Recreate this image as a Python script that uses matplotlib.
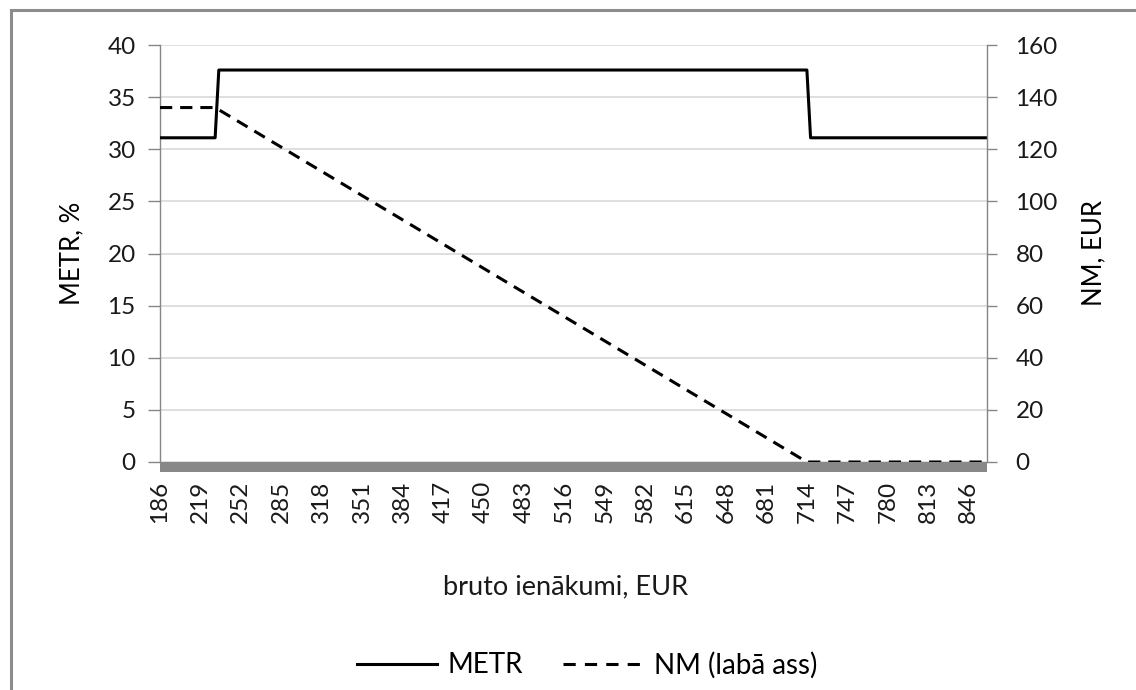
import numpy as np
import matplotlib
matplotlib.use("Agg")
import matplotlib.pyplot as plt
from matplotlib.lines import Line2D
from matplotlib.patches import Rectangle

# data (EUR gross income, step 3 on a category axis)
income_metr = [186, 231, 234, 714, 717, 861]
metr = [31.1, 31.1, 37.6, 37.6, 31.1, 31.1]

income_nm = [186, 231, 714, 861]
nm = [136, 136, 0, 0]

tick_labels = list(range(186, 847, 33))

plt.rcParams["font.family"] = ["Lato", "DejaVu Sans"]
plt.rcParams["font.size"] = 17.5

fig = plt.figure(figsize=(11.36, 6.9), dpi=100)
ax = fig.add_axes([160/1136, 1-462/690, 827/1136, 417/690])
ax2 = ax.twinx()

grid_col = "#d9d9d9"
axis_col = "#868686"
txt_col = "#1a1a1a"

ax.plot(income_metr, metr, color="black", lw=2.2, zorder=3)
ax2.plot(income_nm, nm, color="black", lw=2.2, ls=(0, (4, 2.6)), zorder=3)

ax.set_xlim(186, 861)
ax.set_ylim(0, 40)
ax2.set_ylim(0, 160)
ax.set_yticks(np.arange(0, 41, 5))
ax2.set_yticks(np.arange(0, 161, 20))
ax.set_xticks(tick_labels)
ax.set_xticklabels([str(t) for t in tick_labels])

ax.grid(axis="y", color=grid_col, lw=1.2)
ax.set_axisbelow(True)

for a in (ax, ax2):
    a.spines["top"].set_visible(False)
ax.spines["right"].set_visible(False)
ax2.spines["left"].set_visible(False)
ax2.spines["bottom"].set_visible(False)
ax.spines["left"].set_color(axis_col)
ax2.spines["right"].set_color(axis_col)
ax.spines["left"].set_linewidth(1)
ax2.spines["right"].set_linewidth(1)

# thick grey bar under the zero line
ax.spines["bottom"].set_color("#888888")
ax.spines["bottom"].set_linewidth(7.2)
ax.spines["bottom"].set_capstyle("butt")
ax.spines["bottom"].set_position(("outward", 3.6))

ax.tick_params(axis="x", length=0, pad=10, labelrotation=90, labelcolor=txt_col)
ax.tick_params(axis="y", length=8.5, width=1, color=axis_col, pad=9, labelcolor=txt_col)
ax2.tick_params(axis="y", length=7.5, width=1, color=axis_col, pad=13, labelcolor=txt_col)

ax.set_ylabel("METR, %", color="black", fontsize=18.5)
ax.yaxis.set_label_coords((84-160)/827, 0.5)
ax2.set_ylabel("NM, EUR", color="black", fontsize=18.5)
ax2.yaxis.set_label_coords((1081-160)/827, 0.5)
ax.set_xlabel("bruto ienākumi, EUR", color=txt_col, fontsize=19.5)
ax.xaxis.label.set_va("center")
ax.xaxis.set_label_coords((566-160)/827, -0.30)

handles = [Line2D([], [], color="black", lw=2.2),
           Line2D([], [], color="black", lw=2.2, ls=(0, (4, 3)))]
fig.legend(handles, ["METR", "NM (labā ass)"], loc="center",
           bbox_to_anchor=(587/1136, 1-665/690), ncol=2, frameon=False,
           fontsize=20, handlelength=2.9, columnspacing=1.45, handletextpad=0.36)

# outer chart frame (only top and left edges visible in the picture)
fig.patches.append(Rectangle((11/1136, -0.1), 1.2, 1.1 - 10/690,
                             transform=fig.transFigure, fill=False,
                             edgecolor="#8c8c8c", lw=2.2))

fig.savefig("out.png", dpi=100)
